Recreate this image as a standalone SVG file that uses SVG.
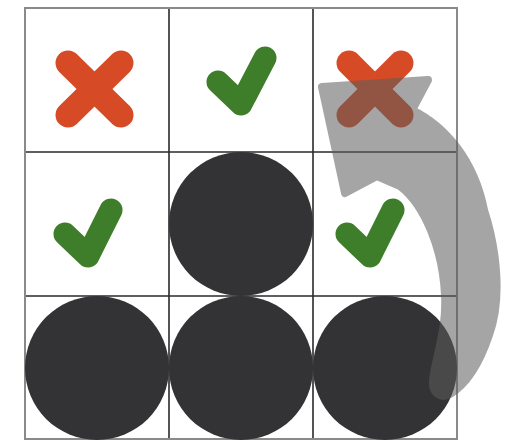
<svg xmlns="http://www.w3.org/2000/svg" width="513" height="440" viewBox="0 0 513 440">
  <style>
    .outer { fill: none; stroke: #8a8a8a; stroke-width: 2; }
    .inner { fill: none; stroke: #2a2a2a; stroke-width: 1.6; }
    .cross { fill: none; stroke: #d64b25; stroke-width: 25; stroke-linecap: round; }
    .check { fill: none; stroke: #3e7e2b; stroke-width: 23; stroke-linecap: round; stroke-linejoin: round; }
    .stone { fill: #333335; }
    .arrow { fill: #5c5c5c; stroke: #5c5c5c; stroke-width: 8; stroke-linejoin: round; }
  </style>
  <rect width="513" height="440" fill="#ffffff"/>
  <g id="grid">
    <line class="inner" x1="169" y1="8" x2="169" y2="440"/>
    <line class="inner" x1="313" y1="8" x2="313" y2="440"/>
    <line class="inner" x1="25" y1="152" x2="457" y2="152"/>
    <line class="inner" x1="25" y1="296" x2="457" y2="296"/>
    <rect class="outer" x="25" y="8" width="432" height="431"/>
  </g>
  <g id="cell-0-0">
    <line class="cross" x1="68" y1="63" x2="121" y2="115"/>
    <line class="cross" x1="121" y1="63" x2="68" y2="115"/>
  </g>
  <g id="cell-1-0">
    <polyline class="check" points="218,82 241,104 265,58"/>
  </g>
  <g id="cell-2-0">
    <line class="cross" x1="349" y1="63" x2="401" y2="115"/>
    <line class="cross" x1="401" y1="63" x2="349" y2="115"/>
  </g>
  <g id="cell-0-1">
    <polyline class="check" points="65,234 88,256 111,210"/>
  </g>
  <g id="cell-1-1">
    <circle class="stone" cx="241" cy="224" r="72"/>
  </g>
  <g id="cell-2-1">
    <polyline class="check" points="347,234 370,256 393,210"/>
  </g>
  <g id="cell-0-2">
    <circle class="stone" cx="97" cy="368" r="72"/>
  </g>
  <g id="cell-1-2">
    <circle class="stone" cx="241" cy="368" r="72"/>
  </g>
  <g id="cell-2-2">
    <circle class="stone" cx="385" cy="368" r="72"/>
  </g>
  <g id="connectors" opacity="0.55">
    <path class="arrow" d="M 322 87 L 428 80 L 412 110 C 445 126, 474 160, 484 210 C 497 250, 502 300, 489 335 C 479 365, 465 385, 450 394 C 440 399, 432 393, 433 380 C 436 355, 447 330, 445 295 C 443 250, 425 205, 400 186 L 377 176 L 345 193 Z"/>
  </g>
</svg>
